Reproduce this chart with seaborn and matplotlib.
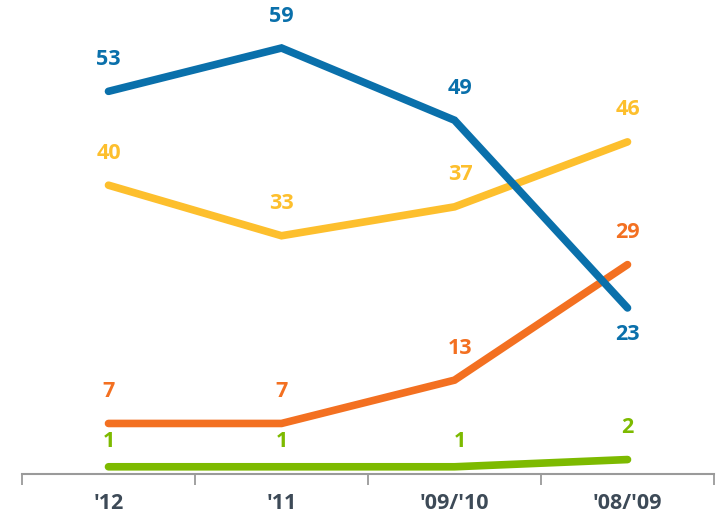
import matplotlib
matplotlib.use("Agg")
import matplotlib.pyplot as plt
import pandas as pd
import seaborn as sns


PERIODS = ["'12", "'11", "'09/'10", "'08/'09"]
SERIES = ["green", "orange", "yellow", "blue"]
GREEN = [1, 1, 1, 2]
ORANGE = [7, 7, 13, 29]
YELLOW = [40, 33, 37, 46]
BLUE = [53, 59, 49, 23]

COLORS = {
    "green": "#7dba00",
    "orange": "#f37021",
    "yellow": "#fdbf2d",
    "blue": "#0a70ab",
}
TEXT_COLOR = "#3d4a57"
AXIS_COLOR = "#9a9a9a"


def build_frame() -> pd.DataFrame:
    values = {"green": GREEN, "orange": ORANGE, "yellow": YELLOW, "blue": BLUE}
    rows = []
    for name in SERIES:
        for i, (period, value) in enumerate(zip(PERIODS, values[name])):
            rows.append({"series": name, "period": period, "pos": i, "value": value})
    return pd.DataFrame(rows)


def label_offset(series: str, pos: int, value: int) -> tuple[float, float]:
    dx = 4 if pos == 2 else 0
    if series == "blue" and pos == 3:
        return dx, -19
    if series == "green" and value == 1:
        # kept low so the 1s stay clear of the orange line
        return dx, 18
    return dx, 23


def main() -> None:
    sns.set_style("white")
    plt.rcParams["font.family"] = ["Open Sans", "DejaVu Sans"]

    df = build_frame()

    fig = plt.figure(figsize=(7.21, 5.22), dpi=100)
    ax = fig.add_axes([22 / 721, 48 / 522, 692 / 721, 474 / 522])

    sns.lineplot(
        data=df,
        x="pos",
        y="value",
        hue="series",
        hue_order=SERIES,
        palette=COLORS,
        linewidth=5.5,
        legend=False,
        sort=False,
        ax=ax,
    )
    for line in ax.get_lines():
        line.set_solid_capstyle("round")
        line.set_solid_joinstyle("miter")

    for _, row in df.iterrows():
        ax.annotate(
            str(row["value"]),
            (row["pos"], row["value"]),
            xytext=label_offset(row["series"], row["pos"], row["value"]),
            textcoords="offset points",
            ha="center",
            va="center",
            fontsize=15.5,
            fontweight="bold",
            color=COLORS[row["series"]],
        )

    ax.set_xlim(-0.5, 3.5)
    ax.set_ylim(0, 65.65)
    ax.set_xticks(range(len(PERIODS)))
    ax.set_xticklabels(PERIODS, fontsize=15.5, fontweight="bold", color=TEXT_COLOR)
    ax.set_xticks([-0.5, 0.5, 1.5, 2.5, 3.5], minor=True)
    ax.tick_params(axis="x", which="major", bottom=True, length=0, pad=14)
    ax.tick_params(axis="x", which="minor", bottom=True, length=8, width=1.3,
                   color=AXIS_COLOR, direction="out")
    ax.set_yticks([])
    ax.set_xlabel("")
    ax.set_ylabel("")

    for side in ["top", "right", "left"]:
        ax.spines[side].set_visible(False)
    ax.spines["bottom"].set_color(AXIS_COLOR)
    ax.spines["bottom"].set_linewidth(1.5)

    fig.savefig("out.png", dpi=100)
    plt.close(fig)


if __name__ == "__main__":
    main()
